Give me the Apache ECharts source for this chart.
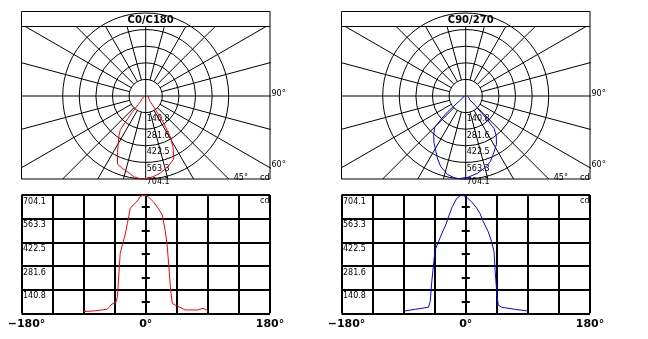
<!DOCTYPE html>
<html>
<head>
<meta charset="utf-8">
<script src="https://cdn.jsdelivr.net/npm/echarts@6/dist/echarts.min.js"></script>
<style>
  html, body { margin: 0; padding: 0; background: #fff; }
  #chart { width: 648px; height: 339px; }
</style>
</head>
<body>
<div id="chart"></div>
<script>
// Luminous intensity distribution (cd) against gamma angle (deg, 0 = nadir), one curve per C-plane
const c0Angles  = [-90, -73, -56, -52.5, -49, -43.5, -41, -39.5, -37, -34, -30, -26.5, -22.5, -18, -13, -8, -3.5, 1.5, 6, 11, 18, 24, 28, 31, 33.5, 36, 38.5, 42.5, 49.5, 57, 76, 83, 88, 90];
const c0Values  = [10, 15, 24, 39, 55, 63, 99, 198, 357, 406, 466, 536, 625, 645, 664, 694, 704.1, 700, 684, 664, 625, 585, 496, 406, 277, 139, 60, 49, 36, 20, 20, 30, 20, 12];
const c90Angles = [-90, -73, -54, -51.5, -49, -47, -44.5, -39.5, -34.5, -29, -24, -19.5, -13, -8, -5, 1.5, 8.5, 16, 20.5, 25.5, 32.5, 37.5, 41, 42.5, 45, 47, 52, 71, 88, 90];
const c90Values = [13, 24, 36, 69, 198, 277, 377, 426, 476, 526, 585, 635, 684, 700, 704.1, 690, 664, 625, 595, 545, 486, 426, 367, 258, 119, 49, 36, 24, 15, 12];

const planeTitles = ['C0/C180', 'C90/270'];
const planeColors = ['#ff0000', '#0000ff'];
const intensityMax = 704.1;
const intensityTicks = ['140.8', '281.6', '422.5', '563.3', '704.1'];
const gammaTickLabels = [-180, 0, 180];
const spokeAngles = [0, 15, 30, 45, 60, 75, 90, 105, 120, 135, 150, 165, 180, 195, 210, 225, 240, 255, 270, 285, 300, 315, 330, 345];
const spokeLabelAngles = [90, 60, 45];

// ---- layout ----
const FONT = 'DejaVu Sans';
const BOX_W = 248.5;
const TITLE_TOP = 11.5, POLAR_TOP = 26.5, POLAR_BOTTOM = 179;
const CY = 96, R = 83;
const LIN_TOP = 195, LIN_H = 118.3;
const step = intensityMax / intensityTicks.length;
const pxPerCd = R / intensityMax;
const panels = [{ left: 21.5 }, { left: 341.5 }].map(p => ({ left: p.left, cx: p.left + 124.2 }));

const curves = [[c0Angles, c0Values], [c90Angles, c90Values]];
const smallText = { color: '#000', fontSize: 8, fontFamily: FONT };
const boldText = { color: '#000', fontSize: 11, fontWeight: 'bold', fontFamily: FONT };

const polar = [], angleAxis = [], radiusAxis = [], grid = [], xAxis = [], yAxis = [], series = [], graphic = [];

panels.forEach((p, i) => {
  // polar diagram: rings and their intensity labels
  polar.push({ center: [p.cx, CY], radius: R });
  angleAxis.push({ polarIndex: i, type: 'value', min: 0, max: 360, startAngle: 270, clockwise: false, show: false });
  radiusAxis.push({
    polarIndex: i, type: 'value', min: 0, max: intensityMax, interval: step,
    axisLine: { show: false }, axisTick: { show: false },
    splitLine: { show: true, lineStyle: { color: '#000', width: 1 } },
    axisLabel: {
      show: true, showMinLabel: false, ...smallText,
      align: 'left', verticalAlign: 'top', margin: 1,
      formatter: v => {
        const k = Math.round(v / step);
        const t = intensityTicks[k - 1];
        if (!t) return '';
        // the outermost value sits on the frame's bottom edge
        return k === intensityTicks.length ? `{edge|${t}}` : `{ring|${t}}`;
      },
      rich: { ring: { ...smallText, lineHeight: 13 }, edge: { ...smallText, lineHeight: 5 } }
    },
    z: 3
  });
});

// cartesian frames holding the spokes of each polar diagram
panels.forEach((p, i) => {
  grid.push({ left: p.left, top: POLAR_TOP, width: BOX_W, height: POLAR_BOTTOM - POLAR_TOP,
              show: true, borderColor: '#000', borderWidth: 1, backgroundColor: 'transparent' });
  xAxis.push({ gridIndex: i, type: 'value', show: false,
               min: -(p.cx - p.left) / pxPerCd, max: (p.left + BOX_W - p.cx) / pxPerCd });
  yAxis.push({ gridIndex: i, type: 'value', show: false,
               min: -(POLAR_BOTTOM - CY) / pxPerCd, max: (CY - POLAR_TOP) / pxPerCd });
});

// linear diagrams
panels.forEach((p, i) => {
  const g = 2 + i;
  grid.push({ left: p.left, top: LIN_TOP, width: BOX_W, height: LIN_H, show: false });
  xAxis.push({
    gridIndex: g, type: 'value', min: -180, max: 180, interval: 45,
    axisLine: { show: false, onZero: false }, axisTick: { show: false },
    splitLine: { show: true, lineStyle: { color: '#000', width: 2 } },
    axisLabel: {
      show: true, showMinLabel: true, showMaxLabel: true, ...boldText, margin: 5,
      formatter: v => {
        if (!gammaTickLabels.includes(v)) return '';
        return v < 0 ? `{neg|\u2212${-v}°}` : `${v}°`;
      },
      rich: { neg: { ...boldText, padding: [0, 0, 0, 10] } }
    }
  });
  yAxis.push({
    gridIndex: g, type: 'value', min: 0, max: intensityMax, interval: step,
    axisLine: { show: false, onZero: false }, axisTick: { show: false },
    splitLine: { show: true, lineStyle: { color: '#000', width: 2 } },
    axisLabel: {
      show: true, inside: true, showMinLabel: false, ...smallText,
      align: 'left', verticalAlign: 'top', margin: 1.5, lineHeight: 13,
      formatter: v => intensityTicks[Math.round(v / step) - 1] || ''
    }
  });
});
// half-step ticks on the 0° line of each linear diagram (one axis ticking left, one right)
panels.forEach((p, i) => {
  [false, true].forEach(inside => {
    yAxis.push({
      gridIndex: 2 + i, type: 'value', min: 0, max: intensityMax, interval: step / 2,
      position: 'left', offset: -(p.cx - p.left),
      axisLine: { show: false, onZero: false },
      axisTick: { show: true, inside, length: 4, lineStyle: { color: '#000', width: 2 } },
      axisLabel: { show: false }, splitLine: { show: false }
    });
  });
});

panels.forEach((p, i) => {
  const [angles, values] = curves[i];
  // curve on the polar diagram
  series.push({
    type: 'line', coordinateSystem: 'polar', polarIndex: i,
    data: angles.map((a, j) => [values[j], (a + 360) % 360]),
    showSymbol: false, silent: true, z: 4,
    lineStyle: { color: planeColors[i], width: 1 }
  });
  // spokes every 15°, clipped to the frame
  series.push({
    type: 'custom', coordinateSystem: 'cartesian2d', xAxisIndex: i, yAxisIndex: i,
    clip: true, silent: true, z: 1,
    data: spokeAngles.map(a => [a, 0]),
    renderItem: (params, api) => {
      const deg = api.value(0);
      const a = deg * Math.PI / 180;
      const r0 = deg % 90 === 0 ? 0 : step;
      const far = 5000;
      const p0 = api.coord([r0 * Math.sin(a), -r0 * Math.cos(a)]);
      const p1 = api.coord([far * Math.sin(a), -far * Math.cos(a)]);
      return { type: 'line', shape: { x1: p0[0], y1: p0[1], x2: p1[0], y2: p1[1] },
               style: { stroke: '#000', lineWidth: 1 } };
    }
  });
  // angle labels where the spokes leave the frame
  series.push({
    type: 'custom', coordinateSystem: 'cartesian2d', xAxisIndex: i, yAxisIndex: i,
    clip: false, silent: true, z: 5,
    data: spokeLabelAngles.map(a => [a, 0]),
    renderItem: (params, api) => {
      const deg = api.value(0);
      const a = deg * Math.PI / 180;
      const c = api.coord([0, 0]);
      const rect = params.coordSys;
      const dx = Math.sin(a), dy = Math.cos(a);
      const tRight = dx > 1e-9 ? (rect.x + rect.width - c[0]) / dx : Infinity;
      const tBottom = dy > 1e-9 ? (rect.y + rect.height - c[1]) / dy : Infinity;
      let x, y;
      if (tRight <= tBottom) { x = c[0] + dx * tRight + 1.5; y = c[1] + dy * tRight + 1.5; }
      else { x = c[0] + dx * tBottom + 5; y = c[1] + dy * tBottom + 2.5; }
      return { type: 'text', x, y,
               style: { text: deg + '°', fill: '#000', fontSize: 8, fontFamily: FONT,
                        align: 'left', verticalAlign: 'bottom' } };
    }
  });
  // curve on the linear diagram
  series.push({
    type: 'line', xAxisIndex: 2 + i, yAxisIndex: 2 + i,
    data: angles.map((a, j) => [a, values[j]]),
    showSymbol: false, silent: true, z: 4,
    lineStyle: { color: planeColors[i], width: 1 }
  });

  // title band and unit labels
  graphic.push({ type: 'rect', shape: { x: p.left, y: TITLE_TOP, width: BOX_W, height: POLAR_TOP - TITLE_TOP },
                 style: { fill: 'none', stroke: '#000', lineWidth: 1 } });
  graphic.push({ type: 'text', x: p.cx + 5, y: 20,
                 style: { text: planeTitles[i], fill: '#000', font: 'bold 10px "DejaVu Sans"',
                          align: 'center', verticalAlign: 'middle' } });
  graphic.push({ type: 'text', x: p.left + BOX_W - 0.5, y: 177.5,
                 style: { text: 'cd', fill: '#000', font: '8px "DejaVu Sans"', align: 'right', verticalAlign: 'middle' } });
  graphic.push({ type: 'text', x: p.left + BOX_W - 0.5, y: 200.5,
                 style: { text: 'cd', fill: '#000', font: '8px "DejaVu Sans"', align: 'right', verticalAlign: 'middle' } });
});

const chart = echarts.init(document.getElementById('chart'), null, { renderer: 'canvas' });
chart.setOption({
  animation: false,
  backgroundColor: '#fff',
  polar, angleAxis, radiusAxis, grid, xAxis, yAxis, series, graphic
});
</script>
</body>
</html>
